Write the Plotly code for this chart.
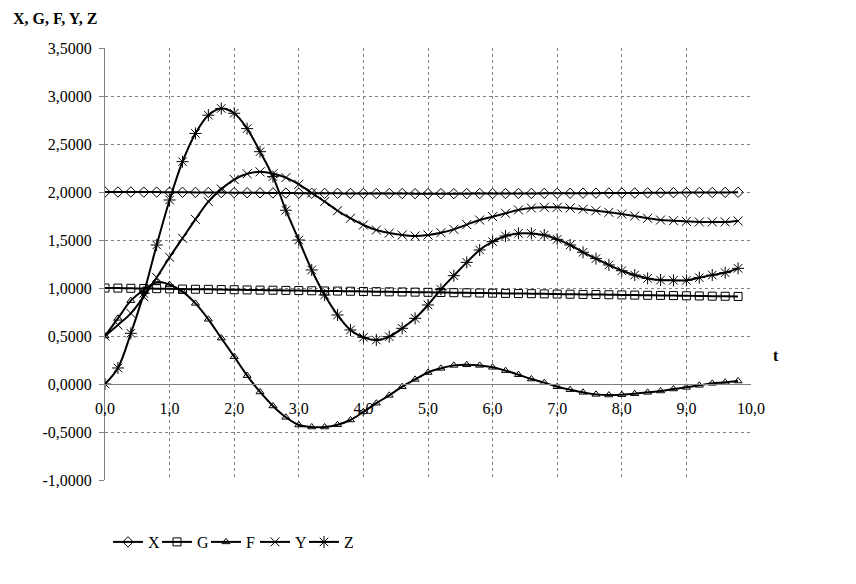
import plotly.graph_objects as go

t = [0.0, 0.2, 0.4, 0.6, 0.8, 1.0, 1.2, 1.4, 1.6, 1.8, 2.0, 2.2, 2.4, 2.6, 2.8, 3.0,
     3.2, 3.4, 3.6, 3.8, 4.0, 4.2, 4.4, 4.6, 4.8, 5.0, 5.2, 5.4, 5.6, 5.8, 6.0,
     6.2, 6.4, 6.6, 6.8, 7.0, 7.2, 7.4, 7.6, 7.8, 8.0, 8.2, 8.4, 8.6, 8.8, 9.0,
     9.2, 9.4, 9.6, 9.8]

X = [2.000, 2.000, 2.000, 1.999, 1.999, 1.998,
     1.997, 1.996, 1.995, 1.994, 1.993,
     1.992, 1.991, 1.990, 1.989, 1.988,
     1.987, 1.986, 1.986, 1.985, 1.985,
     1.984, 1.984, 1.984, 1.983, 1.983,
     1.983, 1.983, 1.983, 1.984, 1.984,
     1.984, 1.985, 1.985, 1.986, 1.986,
     1.987, 1.988, 1.988, 1.989, 1.990,
     1.990, 1.991, 1.992, 1.993, 1.994,
     1.995, 1.995, 1.996, 1.997]

G = [1.000, 0.999, 0.997, 0.995, 0.993, 0.991,
     0.989, 0.987, 0.986, 0.984, 0.982,
     0.980, 0.978, 0.977, 0.975, 0.973,
     0.971, 0.969, 0.968, 0.966, 0.964,
     0.962, 0.960, 0.959, 0.957, 0.955,
     0.953, 0.951, 0.950, 0.948, 0.946,
     0.944, 0.942, 0.941, 0.939, 0.937,
     0.935, 0.933, 0.932, 0.930, 0.928,
     0.926, 0.924, 0.923, 0.921, 0.919,
     0.917, 0.915, 0.914, 0.912]

F = [0.500, 0.684, 0.868, 0.979, 1.060, 1.035,
     0.962, 0.840, 0.674, 0.478, 0.285,
     0.087, -0.083, -0.229, -0.347, -0.427,
     -0.448, -0.448, -0.424, -0.375, -0.290,
     -0.200, -0.118, -0.028, 0.048, 0.120,
     0.163, 0.194, 0.200, 0.194, 0.174,
     0.139, 0.097, 0.052, 0.014, -0.028,
     -0.059, -0.087, -0.108, -0.115, -0.111,
     -0.101, -0.087, -0.073, -0.052, -0.035,
     -0.014, 0.007, 0.018, 0.031]

Y = [0.500, 0.615, 0.736, 0.910, 1.110, 1.320,
     1.518, 1.715, 1.900, 2.030, 2.130,
     2.190, 2.210, 2.190, 2.150, 2.080,
     1.990, 1.900, 1.805, 1.726, 1.656,
     1.604, 1.572, 1.552, 1.542, 1.552,
     1.576, 1.611, 1.660, 1.708, 1.743,
     1.778, 1.813, 1.833, 1.840, 1.840,
     1.833, 1.820, 1.805, 1.788, 1.771,
     1.750, 1.726, 1.708, 1.701, 1.694,
     1.688, 1.688, 1.688, 1.698]

Z = [0.000, 0.167, 0.528, 0.944, 1.448, 1.917,
     2.316, 2.610, 2.800, 2.870, 2.820,
     2.660, 2.420, 2.160, 1.810, 1.500,
     1.188, 0.927, 0.719, 0.563, 0.486,
     0.458, 0.493, 0.580, 0.684, 0.823,
     0.986, 1.128, 1.267, 1.396, 1.483,
     1.542, 1.569, 1.569, 1.552, 1.507,
     1.448, 1.372, 1.306, 1.240, 1.180,
     1.135, 1.100, 1.083, 1.080, 1.080,
     1.108, 1.135, 1.160, 1.205]

y_tick_vals = [-1.0, -0.5, 0.0, 0.5, 1.0, 1.5, 2.0, 2.5, 3.0, 3.5]
y_tick_text = ["-1,0000", "-0,5000", "0,0000", "0,5000", "1,0000", "1,5000",
               "2,0000", "2,5000", "3,0000", "3,5000"]
x_tick_vals = [0, 1, 2, 3, 4, 5, 6, 7, 8, 9, 10]
x_tick_text = ["0,0", "1,0", "2,0", "3,0", "4,0", "5,0", "6,0", "7,0", "8,0", "9,0", "10,0"]

FONT = "Liberation Serif"

series = [
    ("X", X, "diamond-open", 8),
    ("G", G, "square-open", 8),
    ("F", F, "triangle-up-open", 7),
    ("Y", Y, "x-thin-open", 9),
    ("Z", Z, "asterisk-open", 10),
]

fig = go.Figure()
for name, vals, sym, size in series:
    fig.add_trace(go.Scatter(
        x=t, y=vals, name=name, mode="lines+markers",
        line=dict(color="black", width=2, shape="spline", smoothing=1),
        marker=dict(symbol=sym, size=size, color="black",
                    line=dict(color="black", width=1)),
    ))

# page body has an 8px margin: plot area at 105..751 x 48..480 in the window
L, T, R, B = 97, 40, 743, 472
PW, PH = R - L, B - T

fig.update_layout(
    width=856, height=584,
    margin=dict(l=L, r=856 - R, t=T, b=584 - B),
    paper_bgcolor="white", plot_bgcolor="white",
    font=dict(family=FONT, size=16, color="black"),
    showlegend=True,
    legend=dict(orientation="h", x=(100 - L) / PW, xanchor="left",
                y=(B - 534) / PH, yanchor="middle",
                font=dict(family=FONT, size=16), itemwidth=30, tracegroupgap=0,
                entrywidth=4, entrywidthmode="pixels",
                bgcolor="rgba(0,0,0,0)"),
    xaxis=dict(range=[0, 10], tickvals=x_tick_vals, ticktext=x_tick_text,
               anchor="free", position=1.0 / 4.5,
               showgrid=True, gridcolor="#808080", griddash="dot", gridwidth=1,
               showline=True, linecolor="#808080", linewidth=1,
               zeroline=False, ticks="", ticklabelstandoff=10,
               tickfont=dict(family=FONT, size=16)),
    yaxis=dict(range=[-1, 3.5], tickvals=y_tick_vals, ticktext=y_tick_text,
               showgrid=True, gridcolor="#808080", griddash="dot", gridwidth=1,
               showline=True, linecolor="#808080", linewidth=1,
               zeroline=False, ticks="outside", ticklen=5, tickcolor="#808080",
               ticklabelstandoff=4,
               tickfont=dict(family=FONT, size=16)),
    annotations=[
        dict(text="<b>X, G, F, Y, Z</b>", xref="paper", yref="paper",
             x=(3 - L) / PW, y=(B - 10) / PH, xanchor="left", yanchor="middle",
             showarrow=False, font=dict(family=FONT, size=16)),
        dict(text="<b>t</b>", xref="paper", yref="paper",
             x=(768 - L) / PW, y=(B - 347) / PH, xanchor="center", yanchor="middle",
             showarrow=False, font=dict(family=FONT, size=16)),
    ],
)

fig.write_html("out.html")
